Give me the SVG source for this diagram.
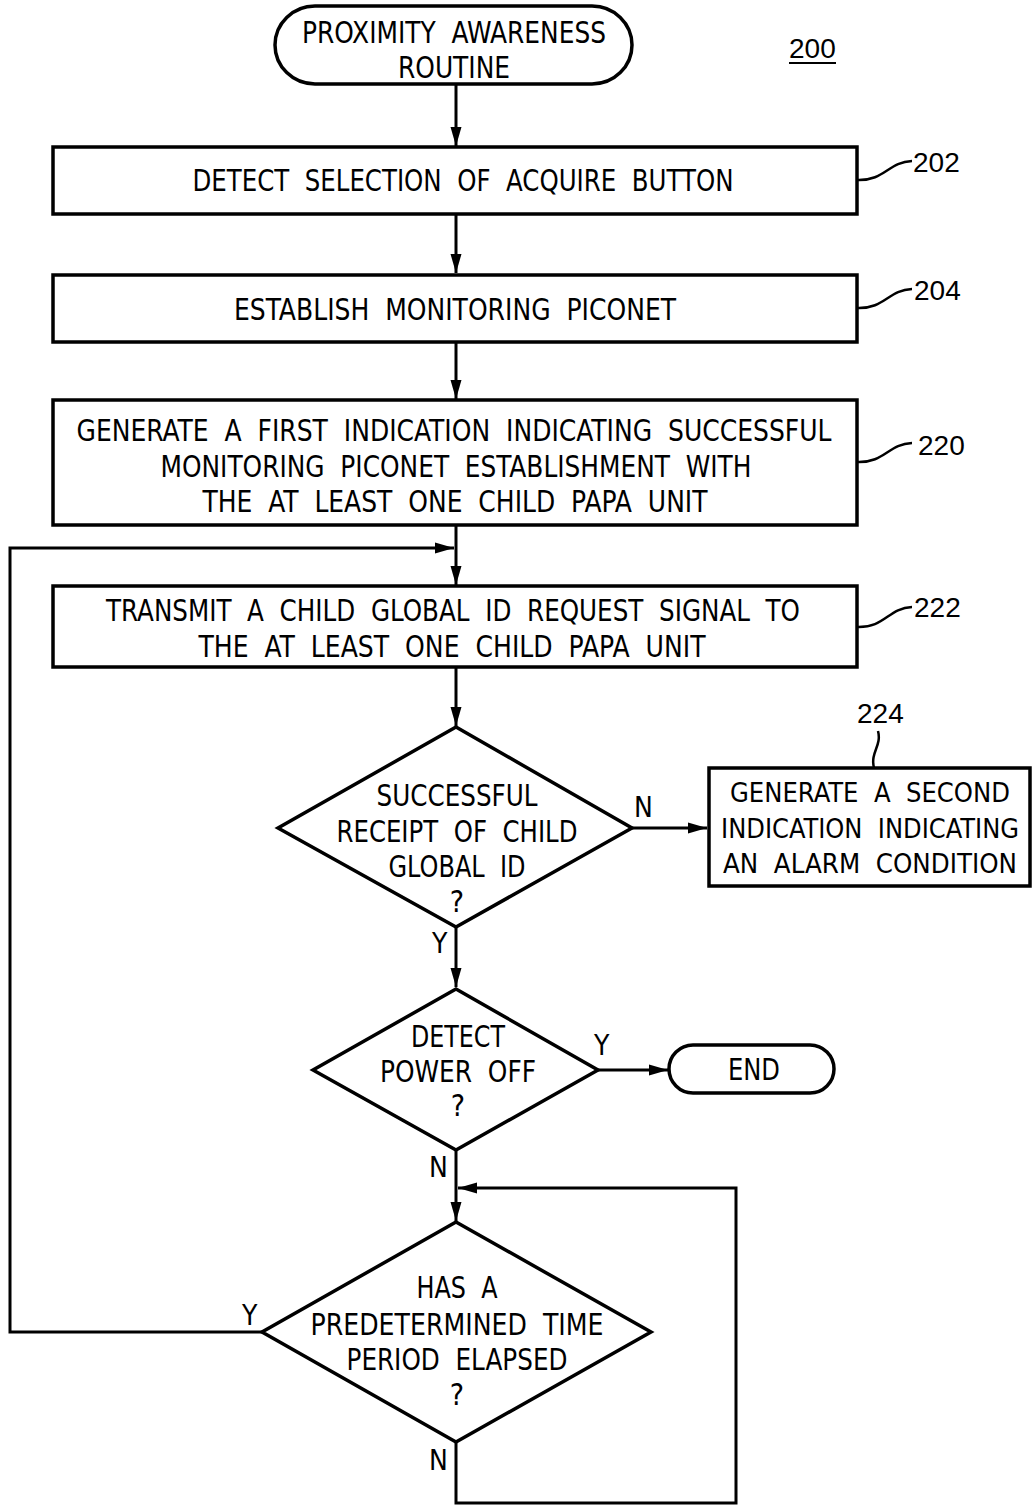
<svg xmlns="http://www.w3.org/2000/svg" width="1035" height="1507" viewBox="0 0 1035 1507" xml:space="preserve">
  <defs>
    <marker id="arrow" markerUnits="userSpaceOnUse" markerWidth="20" markerHeight="12" refX="19" refY="6" orient="auto">
      <path d="M0,0.5 L19,6 L0,11.5 Z" fill="#000"/>
    </marker>
    <style>
      .shape { fill: #fff; stroke: #000; stroke-width: 3.5; }
      .line { fill: none; stroke: #000; stroke-width: 3; }
      .lead { fill: none; stroke: #000; stroke-width: 2.5; }
      .t { font-family: "Liberation Sans Narrow", "DejaVu Sans Condensed", "Liberation Sans", sans-serif; font-size: 30px; fill: #000; text-anchor: middle; white-space: pre; }
      .t.side { font-size: 27px; }
      .lbl { font-family: "Liberation Sans Narrow", "DejaVu Sans Condensed", "Liberation Sans", sans-serif; font-size: 28px; fill: #000; }
      .ref { font-family: "Liberation Sans", Arial, sans-serif; font-size: 28px; fill: #000; }
    </style>
  </defs>
  <rect width="1035" height="1507" fill="#fff"/>

  <!-- connectors -->
  <g id="connectors">
    <path class="line" d="M456,84 L456,146" marker-end="url(#arrow)"/>
    <path class="line" d="M456,214 L456,273" marker-end="url(#arrow)"/>
    <path class="line" d="M456,342 L456,399" marker-end="url(#arrow)"/>
    <path class="line" d="M456,526 L456,585" marker-end="url(#arrow)"/>
    <path class="line" d="M262,1332 L10,1332 L10,548 L454,548" marker-end="url(#arrow)"/>
    <path class="line" d="M456,667 L456,726" marker-end="url(#arrow)"/>
    <path class="line" d="M632,828 L707,828" marker-end="url(#arrow)"/>
    <path class="line" d="M456,927 L456,987" marker-end="url(#arrow)"/>
    <path class="line" d="M598,1070 L668,1070" marker-end="url(#arrow)"/>
    <path class="line" d="M456,1150 L456,1221" marker-end="url(#arrow)"/>
    <path class="line" d="M456,1442 L456,1503 L736,1503 L736,1188 L458,1188" marker-end="url(#arrow)"/>
    <text class="lbl" x="634" y="817">N</text>
    <text class="lbl" x="432" y="953">Y</text>
    <text class="lbl" x="594" y="1055">Y</text>
    <text class="lbl" x="429" y="1177">N</text>
    <text class="lbl" x="242" y="1325">Y</text>
    <text class="lbl" x="429" y="1470">N</text>
  </g>

  <!-- figure number -->
  <g id="fig-number">
    <text class="ref" x="789" y="58">200</text>
    <line x1="789" y1="63" x2="836" y2="63" stroke="#000" stroke-width="2"/>
  </g>

  <g id="start">
    <rect class="shape" x="275" y="6" width="357" height="78" rx="40" ry="39"/>
    <text class="t" x="454" y="43" textLength="304" lengthAdjust="spacingAndGlyphs">PROXIMITY  AWARENESS</text>
    <text class="t" x="454" y="78" textLength="112" lengthAdjust="spacingAndGlyphs">ROUTINE</text>
  </g>

  <g id="step-202">
    <rect class="shape" x="53" y="147" width="804" height="67"/>
    <text class="t" x="463" y="191" textLength="541" lengthAdjust="spacingAndGlyphs">DETECT  SELECTION  OF  ACQUIRE  BUTTON</text>
    <path class="lead" d="M857,180 C885,181 888,162 912,161"/>
    <text class="ref" x="913" y="172">202</text>
  </g>

  <g id="step-204">
    <rect class="shape" x="53" y="275" width="804" height="67"/>
    <text class="t" x="455" y="320" textLength="442" lengthAdjust="spacingAndGlyphs">ESTABLISH  MONITORING  PICONET</text>
    <path class="lead" d="M857,308 C885,309 888,290 912,289"/>
    <text class="ref" x="914" y="300">204</text>
  </g>

  <g id="step-220">
    <rect class="shape" x="53" y="400" width="804" height="125"/>
    <text class="t" x="454" y="441" textLength="755" lengthAdjust="spacingAndGlyphs">GENERATE  A  FIRST  INDICATION  INDICATING  SUCCESSFUL</text>
    <text class="t" x="456" y="477" textLength="591" lengthAdjust="spacingAndGlyphs">MONITORING  PICONET  ESTABLISHMENT  WITH</text>
    <text class="t" x="455" y="512" textLength="505" lengthAdjust="spacingAndGlyphs">THE  AT  LEAST  ONE  CHILD  PAPA  UNIT</text>
    <path class="lead" d="M857,462 C885,463 888,444 912,443"/>
    <text class="ref" x="918" y="455">220</text>
  </g>

  <g id="step-222">
    <rect class="shape" x="53" y="586" width="804" height="81"/>
    <text class="t" x="453" y="621" textLength="694" lengthAdjust="spacingAndGlyphs">TRANSMIT  A  CHILD  GLOBAL  ID  REQUEST  SIGNAL  TO</text>
    <text class="t" x="452" y="657" textLength="507" lengthAdjust="spacingAndGlyphs">THE  AT  LEAST  ONE  CHILD  PAPA  UNIT</text>
    <path class="lead" d="M857,627 C885,628 888,608 912,607"/>
    <text class="ref" x="914" y="617">222</text>
  </g>

  <g id="decision-receipt">
    <path class="shape" d="M456,727 L632,828 L456,927 L278,828 Z"/>
    <text class="t" x="457" y="806" textLength="161" lengthAdjust="spacingAndGlyphs">SUCCESSFUL</text>
    <text class="t" x="457" y="842" textLength="241" lengthAdjust="spacingAndGlyphs">RECEIPT  OF  CHILD</text>
    <text class="t" x="457" y="877" textLength="137" lengthAdjust="spacingAndGlyphs">GLOBAL  ID</text>
    <text class="t" x="457" y="912">?</text>
  </g>

  <g id="step-224">
    <rect class="shape" x="709" y="768" width="321" height="118"/>
    <text class="t side" x="870" y="802" textLength="280" lengthAdjust="spacingAndGlyphs">GENERATE  A  SECOND</text>
    <text class="t side" x="870" y="838" textLength="298" lengthAdjust="spacingAndGlyphs">INDICATION  INDICATING</text>
    <text class="t side" x="870" y="873" textLength="294" lengthAdjust="spacingAndGlyphs">AN  ALARM  CONDITION</text>
    <path class="lead" d="M874,768 C870,752 882,746 878,731"/>
    <text class="ref" x="857" y="723">224</text>
  </g>

  <g id="decision-power">
    <path class="shape" d="M456,989 L598,1070 L456,1150 L313,1070 Z"/>
    <text class="t" x="458" y="1047" textLength="94" lengthAdjust="spacingAndGlyphs">DETECT</text>
    <text class="t" x="458" y="1082" textLength="156" lengthAdjust="spacingAndGlyphs">POWER  OFF</text>
    <text class="t" x="458" y="1116">?</text>
  </g>

  <g id="end">
    <rect class="shape" x="669" y="1045" width="165" height="48" rx="24" ry="24"/>
    <text class="t" x="754" y="1080" textLength="52" lengthAdjust="spacingAndGlyphs">END</text>
  </g>

  <g id="decision-timer">
    <path class="shape" d="M456,1222 L651,1332 L456,1442 L262,1332 Z"/>
    <text class="t" x="457" y="1298" textLength="81" lengthAdjust="spacingAndGlyphs">HAS  A</text>
    <text class="t" x="457" y="1335" textLength="293" lengthAdjust="spacingAndGlyphs">PREDETERMINED  TIME</text>
    <text class="t" x="457" y="1370" textLength="221" lengthAdjust="spacingAndGlyphs">PERIOD  ELAPSED</text>
    <text class="t" x="457" y="1405">?</text>
  </g>
</svg>
